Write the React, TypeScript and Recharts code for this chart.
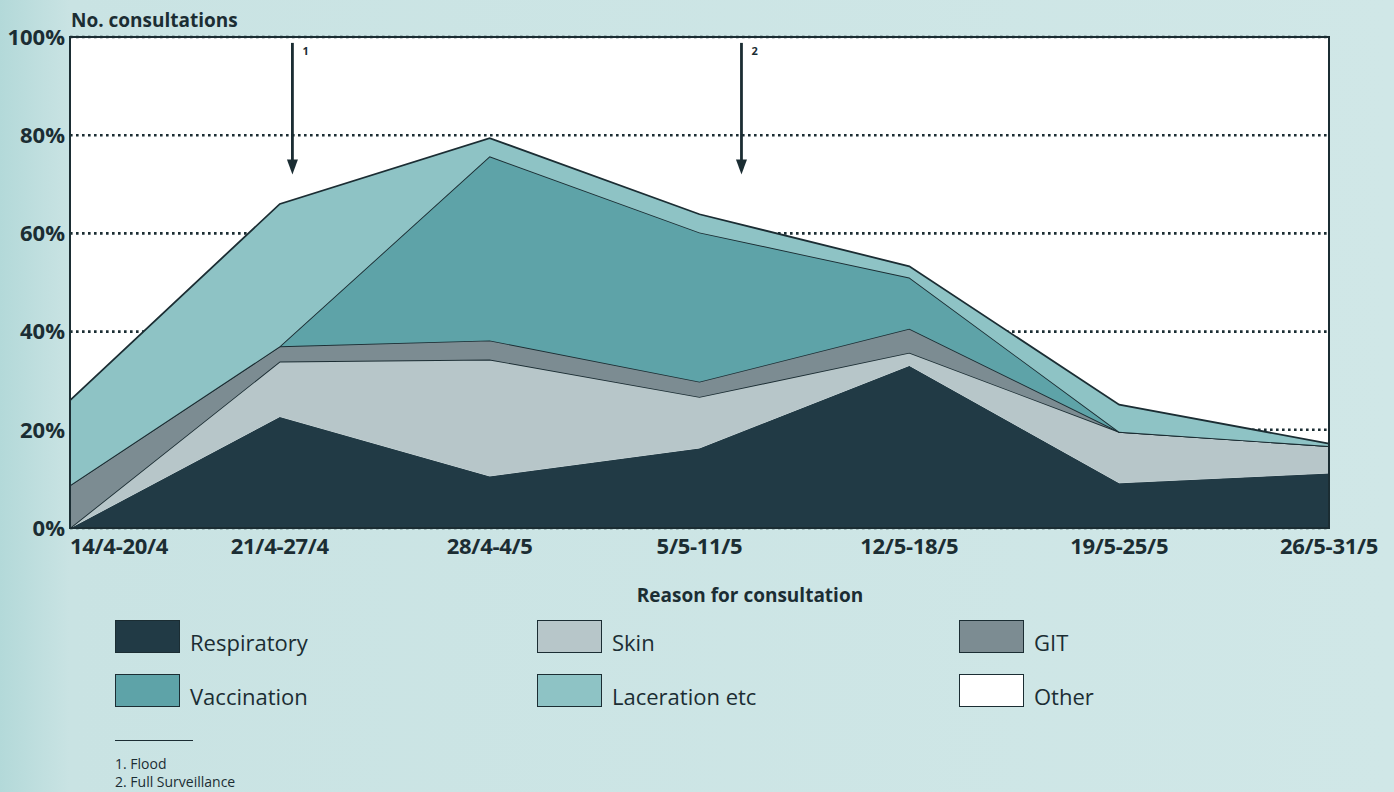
import React from "react";
import {
  Area,
  AreaChart,
  CartesianGrid,
  ReferenceArea,
  ReferenceLine,
  XAxis,
  YAxis,
} from "recharts";

const categories = [
  "14/4-20/4",
  "21/4-27/4",
  "28/4-4/5",
  "5/5-11/5",
  "12/5-18/5",
  "19/5-25/5",
  "26/5-31/5",
];
const respiratory = [0, 22.7, 10.6, 16.3, 33.1, 9.2, 11.2];
const skin = [0, 11.2, 23.7, 10.4, 2.6, 10.4, 5.5];
const git = [8.7, 3.1, 3.9, 3.1, 4.9, 0, 0];
const vaccination = [0, 0, 37.5, 30.4, 10.4, 0, 0];
const laceration = [17.3, 29, 3.7, 3.7, 2.3, 5.5, 0.5];
const other = [74, 34, 20.6, 36.1, 46.7, 74.9, 82.8];
const yTicks = [0, 20, 40, 60, 80, 100];

// events marked with arrows (position on the week axis)
const eventWeeks = [1.06, 3.2];
const eventLabels = ["1", "2"];
const footnotes = ["1. Flood", "2. Full Surveillance"];

const INK = "#1b2d33";
const FONT = "'Open Sans', 'Noto Sans', sans-serif";

const SERIES = [
  { key: "Respiratory", values: respiratory, color: "#213a45" },
  { key: "Skin", values: skin, color: "#b7c6c9" },
  { key: "GIT", values: git, color: "#7c8c92" },
  { key: "Vaccination", values: vaccination, color: "#5ea3a8" },
  { key: "Laceration etc", values: laceration, color: "#8ec3c5" },
  { key: "Other", values: other, color: "#ffffff" },
];

// legend order as printed under the chart (3 columns x 2 rows)
const LEGEND_ORDER = [
  ["Respiratory", "Vaccination"],
  ["Skin", "Laceration etc"],
  ["GIT", "Other"],
];

const data = categories.map((_, i) => {
  const row: Record<string, number> = { week: i };
  SERIES.forEach((s) => (row[s.key] = s.values[i]));
  return row;
});

function WeekTick(props: any) {
  const { x, y, payload, index } = props;
  return (
    <text
      x={x}
      y={y}
      dy={18}
      textAnchor={index === 0 ? "start" : "middle"}
      fill={INK}
      fontSize={22}
      fontWeight={700}
      fontFamily={FONT}
      letterSpacing={-0.3}
    >
      {categories[payload.value]}
    </text>
  );
}

function EventArrow(label: string) {
  return (p: any) => {
    const { x1, y1, x2, y2 } = p;
    return (
      <g>
        <line x1={x1} y1={y1} x2={x2} y2={y2 - 12} stroke={INK} strokeWidth={2.8} />
        <polygon
          points={`${x2 - 5.5},${y2 - 15} ${x2 + 5.5},${y2 - 15} ${x2},${y2}`}
          fill={INK}
        />
        <text
          x={x1 + 10}
          y={y1 + 12}
          fontSize={11}
          fontWeight={700}
          fontFamily={FONT}
          fill={INK}
        >
          {label}
        </text>
      </g>
    );
  };
}

export default function App() {
  const colorOf = (k: string) => SERIES.find((s) => s.key === k)!.color;
  return (
    <div
      style={{
        position: "absolute",
        left: 0,
        top: 0,
        width: 1394,
        height: 792,
        overflow: "hidden",
        background: "linear-gradient(90deg, #b3d9d9 0%, #c9e3e3 5%, #d0e7e7 100%)",
        fontFamily: FONT,
        color: INK,
      }}
    >
      <div
        style={{
          position: "absolute",
          left: 71,
          top: 7,
          fontSize: 19,
          fontWeight: 700,
        }}
      >
        No. consultations
      </div>

      <AreaChart
        width={1394}
        height={580}
        data={data}
        margin={{ top: 37, right: 65, bottom: 12, left: 0 }}
      >
        <CartesianGrid
          vertical={false}
          fill="#ffffff"
          stroke={INK}
          strokeWidth={2.6}
          strokeDasharray="2.6 3.4"
        />
        <XAxis
          dataKey="week"
          type="number"
          domain={[0, 6]}
          ticks={[0, 1, 2, 3, 4, 5, 6]}
          tick={<WeekTick />}
          tickLine={false}
          axisLine={false}
          height={40}
          interval={0}
        />
        <YAxis
          domain={[0, 100]}
          ticks={yTicks}
          tickFormatter={(v) => `${v}%`}
          tick={{ fill: INK, fontSize: 22, fontWeight: 700, fontFamily: FONT }}
          tickLine={false}
          axisLine={false}
          tickSize={3}
          tickMargin={2}
          width={70}
        />
        {SERIES.map((s) => (
          <Area
            key={s.key}
            dataKey={s.key}
            stackId="a"
            type="linear"
            fill={s.key === "Other" ? "none" : s.color}
            fillOpacity={1}
            stroke={s.key === "Respiratory" ? "#c9d6d8" : s.key === "Other" ? "none" : INK}
            strokeWidth={s.key === "Respiratory" ? 1 : 1.8}
            isAnimationActive={false}
            dot={false}
            activeDot={false}
          />
        ))}
        <ReferenceArea
          x1={0}
          x2={6}
          y1={0}
          y2={100}
          fill="none"
          stroke={INK}
          strokeWidth={2}
          ifOverflow="visible"
        />
        {eventWeeks.map((w, i) => (
          <ReferenceLine
            key={eventLabels[i]}
            segment={[
              { x: w, y: 98.8 },
              { x: w, y: 72 },
            ]}
            shape={EventArrow(eventLabels[i])}
            ifOverflow="visible"
          />
        ))}
      </AreaChart>

      <div
        style={{
          position: "absolute",
          left: 0,
          width: 1500,
          top: 582,
          textAlign: "center",
          fontSize: 19,
          fontWeight: 700,
        }}
      >
        Reason for consultation
      </div>

      {LEGEND_ORDER.map((col, c) =>
        col.map((name, r) => (
          <div
            key={name}
            style={{
              position: "absolute",
              left: 115 + c * 422,
              top: 620 + r * 54,
              display: "flex",
              alignItems: "center",
              fontSize: 22,
            }}
          >
            <span
              style={{
                display: "inline-block",
                width: 63,
                height: 31,
                background: colorOf(name),
                border: `1.5px solid ${INK}`,
                marginRight: 10,
              }}
            />
            <span style={{ position: "relative", top: 5 }}>{name}</span>
          </div>
        ))
      )}

      <div
        style={{
          position: "absolute",
          left: 115,
          top: 740,
          width: 78,
          borderTop: `1.5px solid ${INK}`,
        }}
      />
      <div
        style={{
          position: "absolute",
          left: 115,
          top: 755,
          fontSize: 14,
          lineHeight: "18px",
        }}
      >
        {footnotes.map((f) => (
          <div key={f}>{f}</div>
        ))}
      </div>
    </div>
  );
}
